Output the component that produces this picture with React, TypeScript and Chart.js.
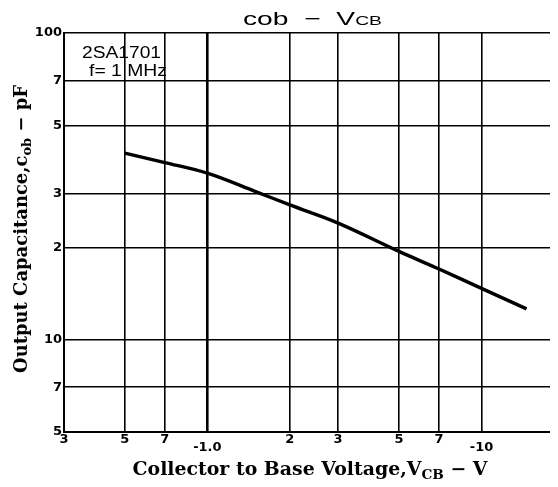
import React, { useEffect, useRef } from 'react';
import { Chart, registerables } from 'chart.js';

Chart.register(...registerables);

// |V_CB| in volts (axis is plotted on magnitude, labelled negative)
const voltages = [0.5, 0.7, 1.0, 1.5, 2, 3, 5, 7, 10, 14.6];
// Output capacitance in pF
const capacitance = [40.6, 37.8, 34.9, 30.4, 27.5, 24.0, 19.4, 17.0, 14.7, 12.6];

const xTickValues = [0.3, 0.5, 0.7, 1, 2, 3, 5, 7, 10, 20];
const xTickLabels = ['3', '5', '7', '-1.0', '2', '3', '5', '7', '-10', '2'];
const yTickValues = [5, 7, 10, 20, 30, 50, 70, 100];
const yTickLabels = ['5', '7', '10', '2', '3', '5', '7', '100'];

const titleParts = ['cob', '  \u2212  ', 'V', 'CB'];
const xTitleParts = ['Collector to Base Voltage,V', 'CB', ' \u2212 V'];
const yTitleParts = ['Output Capacitance,c', 'ob', ' \u2212 pF'];
const noteLines = ['2SA1701', 'f= 1 MHz'];

type Seg = { text: string; size: number; dy: number };

function drawFitted(
  ctx: CanvasRenderingContext2D,
  segs: Seg[],
  family: string,
  weight: string,
  cx: number,
  cy: number,
  target: number,
  angle: number
) {
  ctx.save();
  let total = 0;
  const widths = segs.map((s) => {
    ctx.font = `${weight} ${s.size}px ${family}`;
    const w = ctx.measureText(s.text).width;
    total += w;
    return w;
  });
  ctx.translate(cx, cy);
  ctx.rotate(angle);
  ctx.scale(target / total, 1);
  ctx.fillStyle = '#000';
  ctx.textBaseline = 'alphabetic';
  ctx.textAlign = 'left';
  let x = -total / 2;
  segs.forEach((s, i) => {
    ctx.font = `${weight} ${s.size}px ${family}`;
    ctx.fillText(s.text, x, s.dy);
    x += widths[i];
  });
  ctx.restore();
}

const textPlugin = {
  id: 'customTexts',
  afterDraw(chart: any) {
    const ctx: CanvasRenderingContext2D = chart.ctx;
    const a = chart.chartArea;
    const cxArea = (a.left + a.right) / 2;
    // top title
    drawFitted(
      ctx,
      [
        { text: titleParts[0], size: 19, dy: 0 },
        { text: titleParts[1], size: 19, dy: 0 },
        { text: titleParts[2], size: 19, dy: 0 },
        { text: titleParts[3], size: 13, dy: 0 },
      ],
      '"Liberation Sans", Arial, sans-serif',
      'normal',
      304.5,
      17,
      139,
      0
    );
    // x title
    drawFitted(
      ctx,
      [
        { text: xTitleParts[0], size: 18, dy: 0 },
        { text: xTitleParts[1], size: 13, dy: 4 },
        { text: xTitleParts[2], size: 18, dy: 0 },
      ],
      '"DejaVu Serif", serif',
      'bold',
      cxArea - 4,
      467,
      355,
      0
    );
    // y title
    drawFitted(
      ctx,
      [
        { text: yTitleParts[0], size: 18, dy: 0 },
        { text: yTitleParts[1], size: 13, dy: 4 },
        { text: yTitleParts[2], size: 18, dy: 0 },
      ],
      '"DejaVu Serif", serif',
      'bold',
      19,
      221,
      288,
      -Math.PI / 2
    );
    // note
    ctx.save();
    ctx.fillStyle = '#000';
    ctx.font = 'normal 16px "Liberation Sans", Arial, sans-serif';
    ctx.textBaseline = 'alphabetic';
    ctx.textAlign = 'left';
    const drawNote = (t: string, x: number, y: number, w: number) => {
      const m = ctx.measureText(t).width;
      ctx.save();
      ctx.translate(x, y);
      ctx.scale(w / m, 1);
      ctx.fillText(t, 0, 0);
      ctx.restore();
    };
    drawNote(noteLines[0], 74, 50, 79);
    drawNote(noteLines[1], 81, 68, 78);
    ctx.restore();
  },
};

export default function App() {
  const canvasRef = useRef<HTMLCanvasElement | null>(null);

  useEffect(() => {
    document.body.style.overflow = 'hidden';
    const canvas = canvasRef.current;
    if (!canvas) return;
    const chart = new Chart(canvas, {
      type: 'scatter',
      data: {
        datasets: [
          {
            data: voltages.map((v, i) => ({ x: v, y: capacitance[i] })),
            showLine: true,
            borderColor: '#000',
            backgroundColor: '#000',
            borderWidth: 3.4,
            pointRadius: 0,
            tension: 0.35,
          },
        ],
      },
      options: {
        responsive: false,
        animation: false,
        devicePixelRatio: 1,
        layout: { padding: { top: 25, right: 16, left: 0, bottom: 0 } },
        plugins: {
          legend: { display: false },
          tooltip: { enabled: false },
          title: { display: false },
        },
        scales: {
          x: {
            type: 'logarithmic',
            min: 0.3,
            max: 20,
            afterBuildTicks: (scale: any) => {
              scale.ticks = xTickValues.map((v) => ({ value: v }));
            },
            afterFit: (scale: any) => {
              scale.height = 55;
            },
            ticks: {
              autoSkip: false,
              maxRotation: 0,
              minRotation: 0,
              padding: 4,
              color: '#000',
              font: { family: '"DejaVu Sans", sans-serif', size: 13, weight: 'bold', lineHeight: 0.62 },
              callback: (_v: any, i: number) => {
                const l = xTickLabels[i];
                return l && l.startsWith('-') ? ['', l] : l;
              },
            },
            grid: {
              color: '#000',
              lineWidth: (c: any) => (c.tick && c.tick.value === 1 ? 2.6 : 1.6),
              drawTicks: false,
            },
            border: { display: true, color: '#000', width: 2 },
          },
          y: {
            type: 'logarithmic',
            min: 5,
            max: 100,
            afterBuildTicks: (scale: any) => {
              scale.ticks = yTickValues.map((v) => ({ value: v }));
            },
            afterFit: (scale: any) => {
              scale.width = 56;
            },
            ticks: {
              autoSkip: false,
              padding: 2,
              color: '#000',
              font: { family: '"DejaVu Sans", sans-serif', size: 13, weight: 'bold' },
              callback: (_v: any, i: number) => yTickLabels[i],
            },
            grid: {
              color: '#000',
              lineWidth: 1.6,
              drawTicks: false,
            },
            border: { display: true, color: '#000', width: 2 },
          },
        },
      },
      plugins: [textPlugin],
    } as any);
    return () => chart.destroy();
  }, []);

  return (
    <div style={{ width: 550, height: 479, overflow: 'hidden', position: 'relative' }}>
      <canvas ref={canvasRef} width={572} height={479} style={{ display: 'block' }} />
    </div>
  );
}
